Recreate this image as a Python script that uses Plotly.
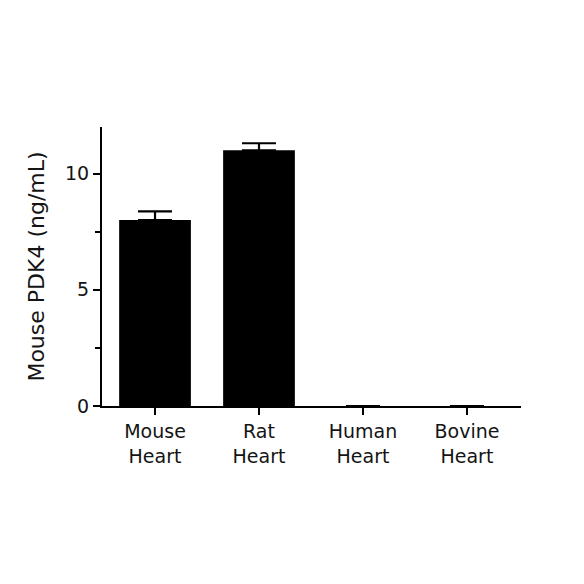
import plotly.graph_objects as go

categories = ["Mouse<br>Heart", "Rat<br>Heart", "Human<br>Heart", "Bovine<br>Heart"]
values = [8.0, 11.0, 0.0, 0.0]
errors = [0.37, 0.3, 0.0, 0.0]
y_ticks = [0, 5, 10]

fig = go.Figure()

# no error bar at all where the bar is empty
err_plus = [e if v > 0 else None for v, e in zip(values, errors)]
err_minus = [0 if v > 0 else None for v in values]

fig.add_trace(go.Bar(
    x=list(range(len(categories))),
    y=values,
    width=0.69,
    marker_color="black",
    marker_line_width=0,
    error_y=dict(
        type="data",
        symmetric=False,
        array=err_plus,
        arrayminus=err_minus,
        color="black",
        thickness=2.2,
        width=17,
    ),
))

font_name = "DejaVu Sans, sans-serif"

# page body adds an 8px margin, so margins are trimmed by 8 on left/top
fig.update_layout(
    width=584,
    height=584,
    margin=dict(l=94, r=71, t=119, b=186),
    paper_bgcolor="white",
    plot_bgcolor="white",
    showlegend=False,
    font=dict(family=font_name, color="#141414", size=17),
)

fig.update_xaxes(
    range=[-0.51, 3.52],
    tickvals=list(range(len(categories))),
    ticktext=categories,
    showline=True,
    linecolor="black",
    linewidth=2,
    ticks="outside",
    ticklen=7,
    tickwidth=2,
    tickcolor="black",
    showgrid=False,
    zeroline=False,
    tickfont=dict(size=19),
)

fig.update_yaxes(
    range=[0, 12],
    tickvals=y_ticks,
    showline=True,
    linecolor="black",
    linewidth=2,
    ticks="outside",
    ticklen=7,
    tickwidth=2,
    tickcolor="black",
    minor=dict(ticks="outside", tickvals=[2.5, 7.5], ticklen=5, tickwidth=1.5, tickcolor="black"),
    showgrid=False,
    zeroline=False,
    tickfont=dict(size=19),
    title=dict(text="Mouse PDK4 (ng/mL)", font=dict(size=22), standoff=14),
)

fig.write_html("out.html")
